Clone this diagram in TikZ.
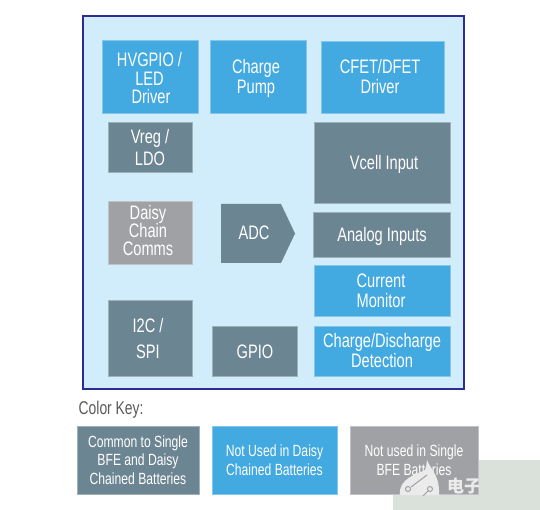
\documentclass[tikz,border=0pt]{standalone}
\usepackage{fontspec}
\setmainfont[FakeStretch=0.75]{Liberation Sans}
\newfontfamily\cjkfont{Noto Sans CJK SC}
\definecolor{panel}{HTML}{D1ECFA}
\definecolor{frame}{HTML}{2E2A96}
\definecolor{bluebox}{HTML}{42A9E1}
\definecolor{slatebox}{HTML}{6C8592}
\definecolor{greybox}{HTML}{A0A1A4}
\definecolor{wmbg}{HTML}{DAE1DB}
\tikzset{
 x=1pt,y=-1pt,
 block/.style={draw=white!35!#1,line width=0.5pt,fill=#1,text=white,align=center,inner sep=0pt,font=\fontsize{19.5}{19}\selectfont},
 keybox/.style={block=#1,font=\fontsize{16.2}{18.5}\selectfont},
 label/.style={text=white,align=center,inner sep=0pt,font=\fontsize{19.5}{19}\selectfont},
}
\begin{document}
\begin{tikzpicture}
\useasboundingbox (0,0) rectangle (540,510);
\fill[wmbg] (393,460) rectangle (540,510);
\node[draw=frame,line width=1.6pt,fill=panel,minimum width=381pt,minimum height=373pt,inner sep=0pt] (panel) at (273.5,202.5) {};
\node[block=bluebox,minimum width=96pt,minimum height=73pt] (hv) at (150,76.5) {};
\node[label] (hvt) at (149.5,78) {HVGPIO /\\[0pt]LED\\[-1pt]\hspace*{3pt}Driver};
\node[block=bluebox,minimum width=96pt,minimum height=73pt] (cp) at (258,76.5) {};
\node[label] (cpt) at (256,78) {Charge\\[1pt]Pump};
\node[block=bluebox,minimum width=123pt,minimum height=72pt] (cf) at (382.5,77) {};
\node[label] (cft) at (380,77) {CFET/DFET\\[1pt]Driver};
\node[block=slatebox,minimum width=84pt,minimum height=50pt] (vr) at (150,147) {};
\node[label] (vrt) at (150,148) {Vreg /\\[3pt]LDO};
\node[block=slatebox,minimum width=136.5pt,minimum height=81pt] (vc) at (382.25,162.5) {};
\node[label] (vct) at (384,164.5) {Vcell Input};
\node[block=greybox,minimum width=84pt,minimum height=63pt] (dc) at (150,232.5) {};
\node[label] (dct) at (148,231) {Daisy\\[-1pt]Chain\\[-1pt]Comms};
\fill[slatebox] (221,204) -- (281,204) -- (295,233.5) -- (281,263) -- (221,263) -- cycle;
\node[label] (adc) at (254,233) {ADC};
\node[block=slatebox,minimum width=137.5pt,minimum height=45pt] (ai) at (381.75,234.5) {};
\node[label] (ait) at (382,236) {Analog Inputs};
\node[block=bluebox,minimum width=136.5pt,minimum height=51pt] (cm) at (382.25,290.5) {};
\node[label] (cmt) at (381,290.5) {Current\\[1pt]Monitor};
\node[block=bluebox,minimum width=136.5pt,minimum height=50pt] (cd) at (382.25,351) {};
\node[label] (cdt) at (382,351) {Charge/Discharge\\[1pt]Detection};
\node[block=slatebox,minimum width=84pt,minimum height=76pt] (i2c) at (150,338) {};
\node[label] (i2ct) at (148,338.5) {I2C /\\[7pt]SPI};
\node[block=slatebox,minimum width=85pt,minimum height=50pt] (gp) at (254.5,351) {};
\node[label] (gpt) at (255,352) {GPIO};
\node[anchor=west,inner sep=0pt,text=black!65,font=\fontsize{18.5}{18}\selectfont] (key) at (78.5,410) {Color Key:};
\node[keybox=slatebox,minimum width=122pt,minimum height=68pt] (k1) at (138,460) {Common to Single\\BFE and Daisy\\Chained Batteries};
\node[keybox=bluebox,minimum width=125pt,minimum height=68pt] (k2) at (274.5,460) {Not Used in Daisy\\Chained Batteries};
\node[keybox=greybox,minimum width=128pt,minimum height=68pt] (k3) at (414,460) {Not used in Single\\BFE Batteries};
\begin{scope}
\clip (350,427) rectangle (478,495);
\fill[white!92!black] (400,495) .. controls (398,478) and (418,474) .. (425,470) .. controls (427,466) and (426,463) .. (427,460) .. controls (430,468) and (439,476) .. (439,490) -- (439,495) -- cycle;
\draw[greybox,line width=1pt] (411,487) -- (427,475);
\draw[greybox,line width=1pt] (408,489) circle (2.5);
\draw[greybox,line width=1pt] (430,489) circle (2.5);
\draw[greybox,line width=1pt] (428,491) -- (422,497);
\node[anchor=west,inner sep=0pt,text=white!92!black,font=\cjkfont\bfseries\fontsize{17}{17}\selectfont] (wm) at (447,486) {电子};
\end{scope}
\end{tikzpicture}
\end{document}
